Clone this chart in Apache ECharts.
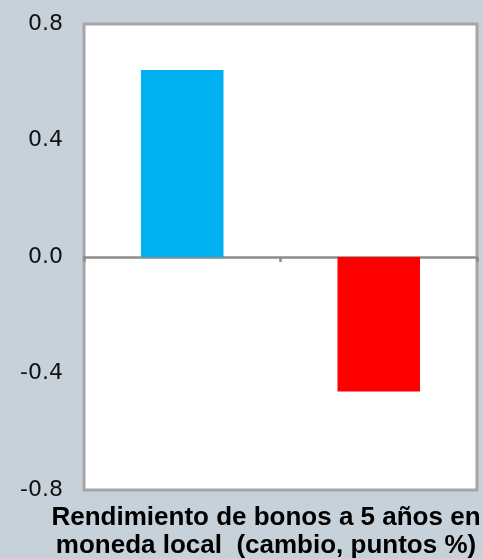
<!DOCTYPE html>
<html>
<head>
<meta charset="utf-8">
<script src="https://cdn.jsdelivr.net/npm/echarts@6/dist/echarts.min.js"></script>
<style>
html,body{margin:0;padding:0;background:#c6d1d9;}
#c{width:483px;height:559px;}
</style>
</head>
<body>
<div id="c"></div>
<script>
var categories = ['Bar 1', 'Bar 2'];
var values = [0.642, -0.462];
var barColors = ['#00b0f0', '#ff0000'];
var yTicks = [-0.8, -0.4, 0.0, 0.4, 0.8];
var titleLines = ['Rendimiento de bonos a 5 años en', 'moneda local  (cambio, puntos %)'];

var chart = echarts.init(document.getElementById('c'), null, {renderer: 'canvas'});
chart.setOption({
  backgroundColor: '#c6d1d9',
  animation: false,
  grid: {
    left: 84, top: 24, right: 6, bottom: 69,
    show: true, backgroundColor: '#ffffff',
    borderColor: '#a6a6a6', borderWidth: 3
  },
  xAxis: {
    type: 'category',
    data: categories,
    axisLine: {show: true, onZero: true, lineStyle: {color: '#8c8c8c', width: 2.5}},
    axisTick: {show: true, length: 5, lineStyle: {color: '#8c8c8c', width: 2.5}},
    axisLabel: {show: false},
    splitLine: {show: false}
  },
  yAxis: {
    type: 'value',
    min: yTicks[0], max: yTicks[yTicks.length - 1], interval: 0.4,
    axisLine: {show: false},
    axisTick: {show: false},
    splitLine: {show: false},
    axisLabel: {
      margin: 21,
      color: '#111',
      fontFamily: 'DejaVu Sans',
      fontSize: 22,
      formatter: function (v) { return v.toFixed(1); }
    }
  },
  series: [{
    type: 'bar',
    barWidth: '42%',
    data: values.map(function (v, i) { return {value: v, itemStyle: {color: barColors[i]}}; })
  }],
  graphic: [{
    type: 'text',
    x: 266, y: 532,
    style: {
      text: titleLines.join('\n'),
      fill: '#000',
      font: 'bold 26px "Liberation Sans"',
      lineHeight: 28,
      align: 'center',
      verticalAlign: 'middle'
    }
  }]
});
</script>
</body>
</html>
